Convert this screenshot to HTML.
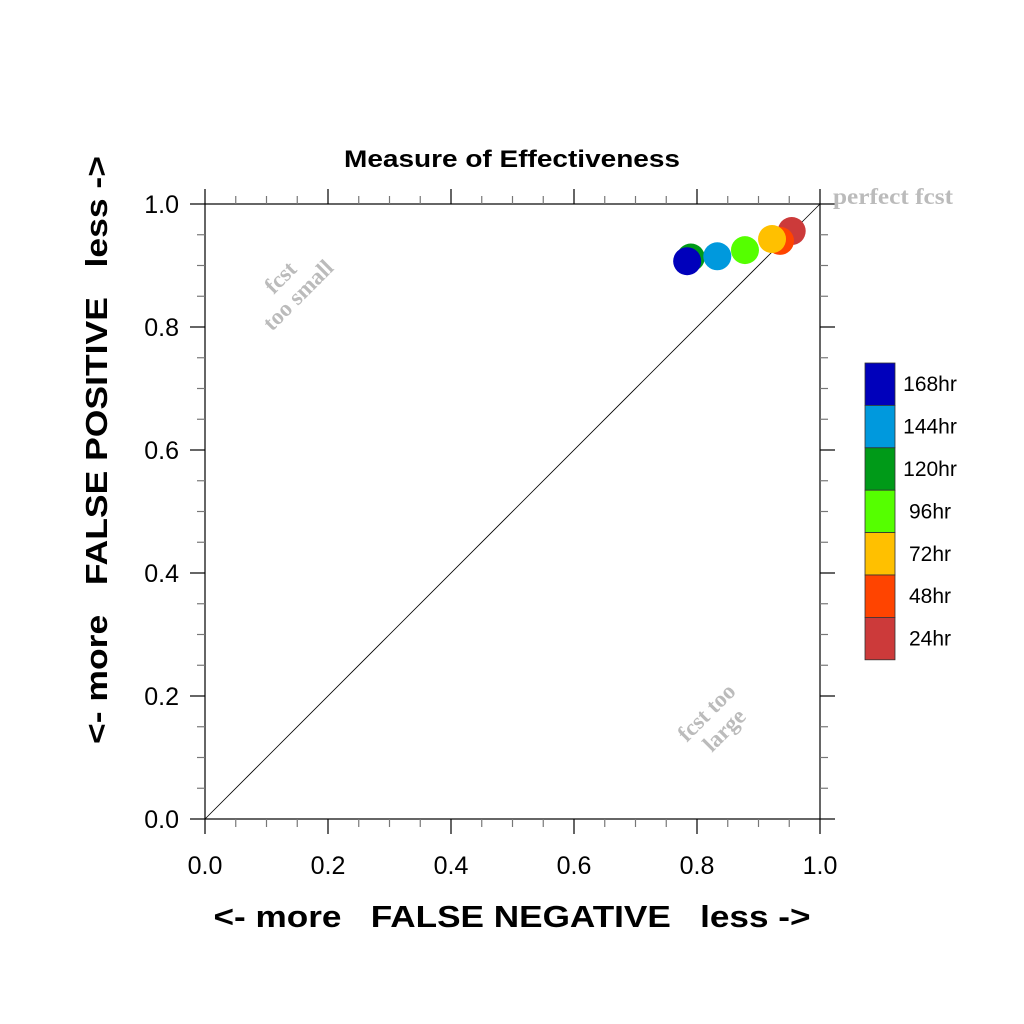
<!DOCTYPE html>
<html><head><meta charset="utf-8"><style>
html,body{margin:0;padding:0;background:#fff;}
svg{display:block;font-family:"Liberation Sans",sans-serif;}
</style></head><body>
<svg id="chart" width="1024" height="1024" viewBox="0 0 1024 1024">
<text x="512" y="167" text-anchor="middle" font-size="24" font-weight="bold" textLength="336" lengthAdjust="spacingAndGlyphs">Measure of Effectiveness</text>
<g id="axes"></g>
<line x1="205" y1="819" x2="820" y2="204" stroke="#000" stroke-width="0.8"/>
<text x="833" y="204" font-family="Liberation Serif,serif" font-weight="bold" font-size="23" fill="#bbb" textLength="120" lengthAdjust="spacingAndGlyphs">perfect fcst</text>
<g transform="translate(290,287) rotate(-45)" font-family="Liberation Serif,serif" font-weight="bold" font-size="23" fill="#bbb" text-anchor="middle"><text x="0" y="-6">fcst</text><text x="0" y="19">too small</text></g>
<g transform="translate(716,722) rotate(-45)" font-family="Liberation Serif,serif" font-weight="bold" font-size="23" fill="#bbb" text-anchor="middle"><text x="0" y="-6">fcst too</text><text x="0" y="19">large</text></g>
<g id="points"></g>
<g id="legend"></g>
<text x="512" y="927" text-anchor="middle" font-size="31" font-weight="bold" textLength="597" lengthAdjust="spacingAndGlyphs" xml:space="preserve">&lt;- more   FALSE NEGATIVE   less -&gt;</text>
<text transform="translate(107,450) rotate(-90)" text-anchor="middle" font-size="31" font-weight="bold" textLength="588" lengthAdjust="spacingAndGlyphs" xml:space="preserve">&lt;- more   FALSE POSITIVE   less -&gt;</text>
</svg>
<script>
const labels = ["24hr","48hr","72hr","96hr","120hr","144hr","168hr"];
const colors = ["#cc3a3a","#ff4400","#ffc000","#55ff00","#009a18","#0099dd","#0000bb"];
const xVals = [0.954,0.935,0.922,0.878,0.790,0.833,0.784];
const yVals = [0.956,0.940,0.943,0.925,0.913,0.915,0.907];
const tickVals = [0,0.2,0.4,0.6,0.8,1.0];
const tickLabels = ["0.0","0.2","0.4","0.6","0.8","1.0"];
const NS="http://www.w3.org/2000/svg";
const X0=205,X1=820,Y0=819,Y1=204;
function sx(v){return X0+v*(X1-X0);}
function sy(v){return Y0-v*(Y0-Y1);}
function mk(t,a,p){const e=document.createElementNS(NS,t);for(const k in a)e.setAttribute(k,a[k]);p.appendChild(e);return e;}
const axes=document.getElementById('axes');
const fr=mk('rect',{x:X0,y:Y1,width:X1-X0,height:Y0-Y1,fill:'none',stroke:'#000','stroke-width':1.2},axes);


for(let i=0;i<=20;i++){
  const v=i/20,maj=i%4===0,L=maj?15:8,c=maj?'#000':'#777';
  const a=sx(v),b=sy(v);
  mk('line',{x1:a,y1:Y0,x2:a,y2:Y0+L,stroke:c,'stroke-width':1.2},axes);
  mk('line',{x1:a,y1:Y1,x2:a,y2:Y1-L,stroke:c,'stroke-width':1.2},axes);
  mk('line',{x1:X0,y1:b,x2:X0-L,y2:b,stroke:c,'stroke-width':1.2},axes);
  mk('line',{x1:X1,y1:b,x2:X1+L,y2:b,stroke:c,'stroke-width':1.2},axes);
}
tickVals.forEach((v,i)=>{
  const t=mk('text',{x:sx(v),y:874,'text-anchor':'middle','font-size':25},axes);
  t.textContent=tickLabels[i];
  
  
  const u=mk('text',{x:179,y:sy(v)+9,'text-anchor':'end','font-size':25},axes);
  u.textContent=tickLabels[i];
  
  
});
const pts=document.getElementById('points');
labels.forEach((l,i)=>{
  const c=mk('circle',{cx:sx(xVals[i]),cy:sy(yVals[i]),r:14,fill:colors[i]},pts);
  
  
});
const lg=document.getElementById('legend');
const bh=42.4;
for(let k=0;k<labels.length;k++){
  const i=labels.length-1-k;
  const y=363+k*bh;
  const r=mk('rect',{x:865,y:y,width:30,height:bh,fill:colors[i],stroke:'#333','stroke-width':0.8},lg);
  
  
  const t=mk('text',{x:930,y:y+bh/2+7,'text-anchor':'middle','font-size':21},lg);
  t.textContent=labels[i];
  
  
}
</script>
</body></html>
